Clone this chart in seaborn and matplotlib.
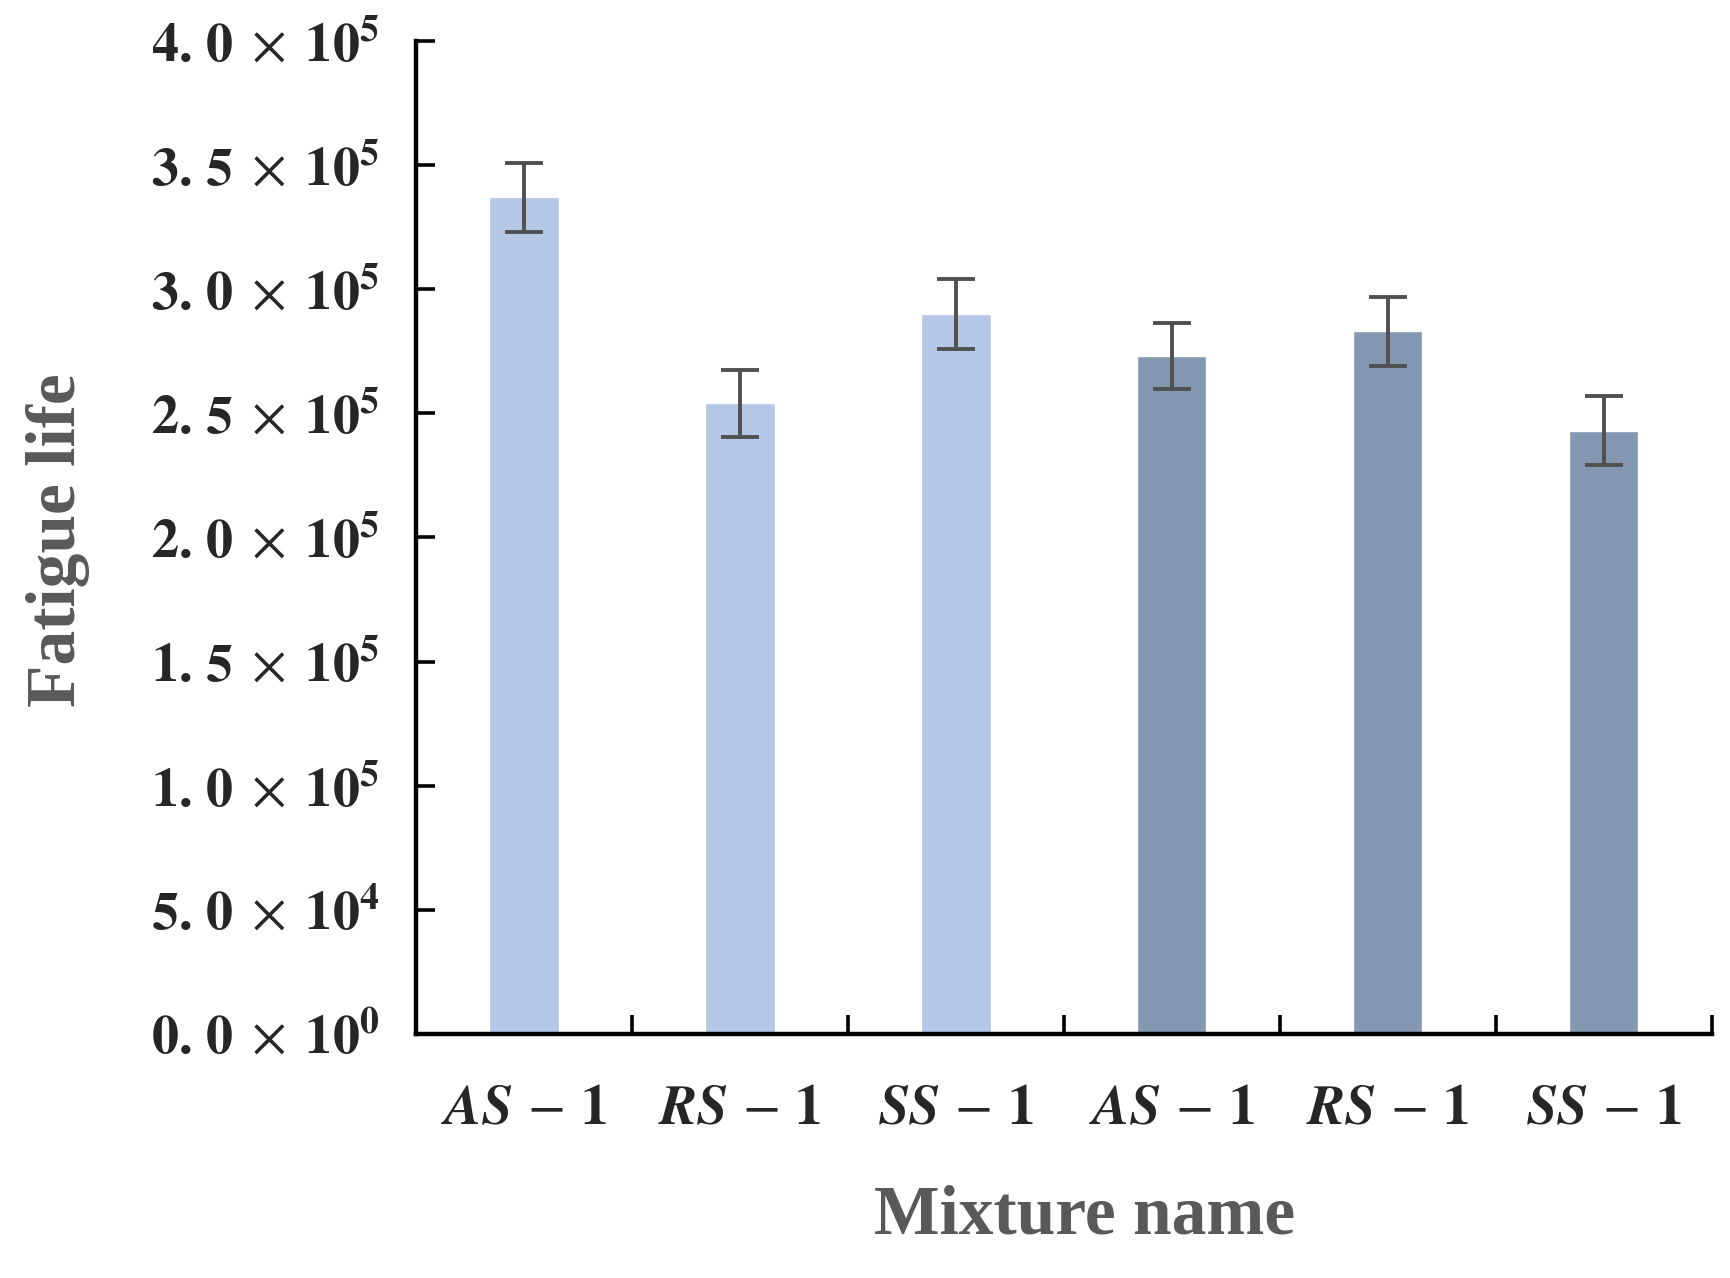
import numpy as np
import pandas as pd
import matplotlib
matplotlib.use("Agg")
import matplotlib.pyplot as plt
import seaborn as sns

# donnees
noms = [r"$\mathbfit{AS}\,-\,\mathbf{1}$", r"$\mathbfit{RS}\,-\,\mathbf{1}$", r"$\mathbfit{SS}\,-\,\mathbf{1}$",
        r"$\mathbfit{AS}\,-\,\mathbf{1}$", r"$\mathbfit{RS}\,-\,\mathbf{1}$", r"$\mathbfit{SS}\,-\,\mathbf{1}$"]
groupes = ["A", "A", "A", "B", "B", "B"]
fatigue = [3.37e5, 2.54e5, 2.90e5, 2.73e5, 2.83e5, 2.43e5]
erreur = [0.138e5, 0.136e5, 0.142e5, 0.133e5, 0.138e5, 0.140e5]
yticks = [0, 0.5e5, 1.0e5, 1.5e5, 2.0e5, 2.5e5, 3.0e5, 3.5e5, 4.0e5]
mantisses = ["0.0", "5.0", "1.0", "1.5", "2.0", "2.5", "3.0", "3.5", "4.0"]
exposants = [0, 4, 5, 5, 5, 5, 5, 5, 5]
ytick_labels = [r"$\mathbf{%s.}\,\mathbf{%s}\;\times\;\mathbf{10^{%d}}$" % (m[0], m[2], e)
                for m, e in zip(mantisses, exposants)]

couleurs = {"A": "#B4C7E7", "B": "#8497B0"}

df = pd.DataFrame({"pos": range(len(noms)), "fatigue": fatigue, "groupe": groupes})

sns.set_style("white")
plt.rcParams["mathtext.fontset"] = "stix"
plt.rcParams["font.family"] = ["Liberation Serif", "DejaVu Serif"]

fig = plt.figure(figsize=(17.30, 12.78), dpi=100)
ax = fig.add_axes([0.2405, 0.191, 0.749, 0.777])

sns.barplot(data=df, x="pos", y="fatigue", hue="groupe", palette=couleurs,
            dodge=False, width=0.32, legend=False, saturation=1, ax=ax)
ax.errorbar(df["pos"], df["fatigue"], yerr=erreur, fmt="none", ecolor="#505050",
            elinewidth=2.8, capsize=14, capthick=2.8)

ax.set_xlim(-0.5, 5.5)
ax.set_ylim(0, 4.0e5)
ax.set_yticks(yticks)
ax.set_yticklabels(ytick_labels, fontsize=39)

# ticks majeurs entre les categories, etiquettes au centre
ax.set_xticks(np.arange(0.5, 6, 1))
ax.set_xticklabels([])
ax.set_xticks(np.arange(0, 6), minor=True)
ax.set_xticklabels(noms, minor=True, fontsize=40)
ax.tick_params(axis="x", which="minor", bottom=True, length=0, pad=36)
ax.tick_params(axis="x", which="major", bottom=True, direction="in", length=14, width=2.6, color="black")
ax.tick_params(axis="y", left=True, direction="in", length=14, width=2.6, color="black", pad=26)

for s in ["top", "right"]:
    ax.spines[s].set_visible(False)
for s in ["left", "bottom"]:
    ax.spines[s].set_linewidth(3.2)
    ax.spines[s].set_color("black")

ax.set_xlabel("Mixture name", fontsize=50, fontweight="bold", color="#595959", va="center")
ax.set_ylabel("Fatigue life", fontsize=50, fontweight="bold", color="#595959", va="center")
ax.xaxis.set_label_coords((1084 - 416) / (0.749 * 1730), (1034 - 1217) / (0.777 * 1278))
ax.yaxis.set_label_coords((58 - 416) / (0.749 * 1730), (1034 - 540) / (0.777 * 1278))

fig.savefig("out.png", dpi=100)
